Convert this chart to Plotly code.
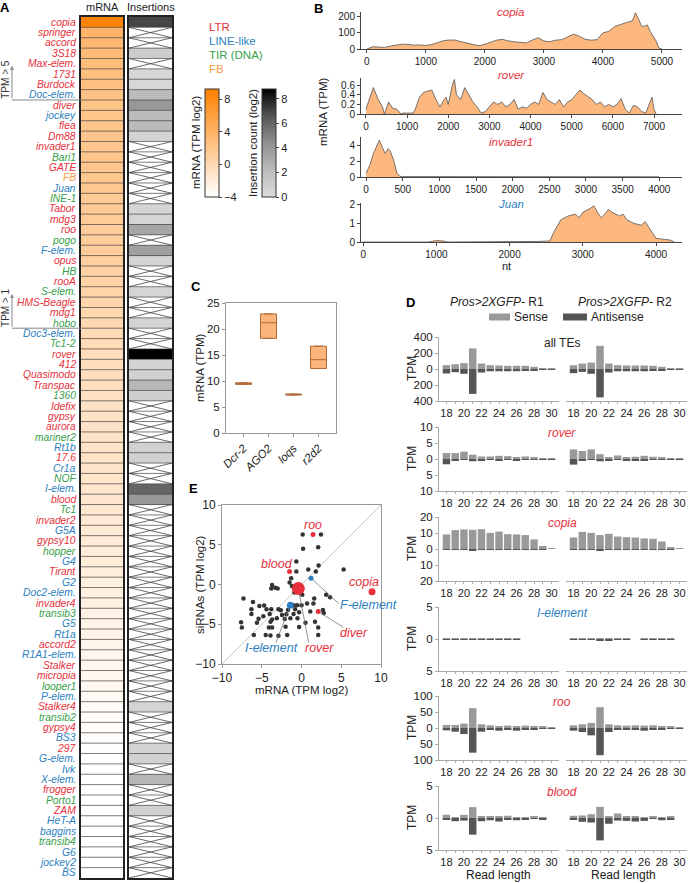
import math
import plotly.graph_objects as go

W, H = 689, 883
FONT = "Liberation Sans, Arial, sans-serif"
RED, BLUE, GREEN, ORANGE = "#e8303a", "#2d7fc1", "#36a04a", "#f59a4a"
CLASS_COLOR = {"L": RED, "N": BLUE, "T": GREEN, "F": ORANGE}

# ---------------- Panel A data ----------------
te_names = ["copia", "springer", "accord", "3S18", "Max-elem.", "1731", "Burdock", "Doc-elem.",
            "diver", "jockey", "flea", "Dm88", "invader1", "Bari1", "GATE", "FB", "Juan", "INE-1",
            "Tabor", "mdg3", "roo", "pogo", "F-elem.", "opus", "HB", "rooA", "S-elem.", "HMS-Beagle",
            "mdg1", "hobo", "Doc3-elem.", "Tc1-2", "rover", "412", "Quasimodo", "Transpac", "1360",
            "Idefix", "gypsy", "aurora", "mariner2", "Rt1b", "17.6", "Cr1a", "NOF", "I-elem.", "blood",
            "Tc1", "invader2", "G5A", "gypsy10", "hopper", "G4", "Tirant", "G2", "Doc2-elem.",
            "invader4", "transib3", "G5", "Rt1a", "accord2", "R1A1-elem.", "Stalker", "micropia",
            "looper1", "P-elem.", "Stalker4", "transib2", "gypsy4", "BS3", "297", "G-elem.", "Ivk",
            "X-elem.", "frogger", "Porto1", "ZAM", "HeT-A", "baggins", "transib4", "G6", "jockey2", "BS"]
te_class = ["L", "L", "L", "L", "L", "L", "L", "N",
            "L", "N", "L", "L", "L", "T", "L", "F", "N", "T",
            "L", "L", "L", "T", "N", "L", "T", "L", "T", "L",
            "L", "T", "N", "T", "L", "L", "L", "L", "T",
            "L", "L", "L", "T", "N", "L", "N", "T", "N", "L",
            "T", "L", "N", "L", "T", "N", "L", "N", "N",
            "L", "T", "N", "N", "L", "N", "L", "L",
            "T", "N", "L", "T", "L", "N", "L", "N", "N",
            "N", "L", "T", "L", "N", "N", "T", "N", "N", "N"]
mrna_log2 = [8.9, 3.8, 3.4, 3.1, 2.9, 2.7, 2.55, 2.4,
             2.2, 2.1, 2.05, 2.0, 1.9, 1.85, 1.8, 1.75, 1.7, 1.6,
             1.5, 1.4, 1.3, 1.25, 1.2, 1.0, 0.8, 0.6, 0.45, 0.3,
             0.2, 0.05, -0.1, -0.25, -0.4, -0.5, -0.6, -0.7, -0.8,
             -0.9, -0.95, -1.0, -1.05, -1.1, -1.15, -1.2, -1.25, -1.3, -1.5,
             -1.6, -1.7, -1.8, -1.9, -2.0, -2.1, -2.2, -2.3, -2.4,
             -2.5, -2.6, -2.7, -2.8, -2.9, -3.0, -3.1, -3.2,
             -3.3, -3.4, -3.5, -3.6, -3.7, -3.8, -3.9, -4.0, -4.1,
             -4.2, -4.3, -4.5, -4.7, -5.0, -5.3, -5.6, -6.0, -6.5, -7.5]
insert_log2 = [7.0, None, None, 1.1, None, 0.4, 0.4, 2.2,
               4.0, 2.2, 2.2, 0.6, None, None, None, None, None, None,
               0.5, 0.5, 3.3, None, 3.6, 0.5, None, None, 0.5, None,
               None, 0.6, None, None, 8.8, 0.6, 0.8, 2.4, 0.9,
               None, None, None, None, 0.8, 0.8, None, None, 6.0, 4.0,
               None, None, None, None, None, None, None, None, None,
               None, None, None, None, None, None, None, None,
               None, None, 0.6, None, None, None, 0.6, 0.8, None,
               2.4, None, None, 0.8, None, None, None, None, None, None]

# ---------------- Panel B data ----------------
copia_nt = [0, 100, 200, 300, 400, 500, 600, 700, 800, 900, 1000, 1100, 1200, 1300, 1400, 1500, 1600,
            1700, 1800, 1900, 2000, 2100, 2200, 2300, 2400, 2500, 2600, 2700, 2800, 2900, 3000, 3100,
            3200, 3300, 3400, 3500, 3600, 3700, 3800, 3900, 4000, 4100, 4200, 4300, 4400, 4500, 4550,
            4600, 4650, 4700, 4750, 4800, 4900, 4950, 5000]
copia_cov = [0, 14, 12, 10, 18, 25, 30, 28, 24, 25, 22, 28, 40, 52, 56, 55, 45,
             38, 30, 20, 30, 45, 55, 60, 50, 45, 40, 38, 55, 70, 50, 45,
             55, 58, 75, 92, 80, 60, 55, 58, 100, 110, 140, 155, 165, 175, 225,
             190, 145, 140, 150, 110, 50, 5, 0]
rover_nt = [0, 100, 180, 300, 400, 450, 550, 650, 750, 850, 900, 1000, 1100, 1150, 1200, 1300, 1400,
            1500, 1600, 1700, 1800, 1900, 1950, 2000, 2100, 2150, 2200, 2300, 2400, 2500, 2600, 2700,
            2800, 2900, 3000, 3100, 3200, 3300, 3400, 3500, 3600, 3700, 3800, 3900, 4000, 4100, 4200,
            4300, 4400, 4500, 4600, 4700, 4800, 4900, 5000, 5100, 5200, 5300, 5400, 5500, 5600, 5700,
            5800, 5900, 6000, 6100, 6200, 6300, 6400, 6500, 6600, 6700, 6800, 6900, 6950, 7000, 7050]
rover_cov = [0.1, 0.35, 0.55, 0.3, 0.15, 0.0, 0.25, 0.12, 0.1, 0.0, 0.02, 0.02, 0.02, 0.02, 0.1, 0.35, 0.45,
             0.48, 0.5, 0.3, 0.15, 0.3, 0.35, 0.2, 0.6, 0.72, 0.4, 0.3, 0.55, 0.4, 0.25, 0.15,
             0.02, 0.05, 0.15, 0.25, 0.2, 0.25, 0.15, 0.2, 0.3, 0.1, 0.15, 0.12, 0.2, 0.25, 0.2,
             0.45, 0.3, 0.25, 0.2, 0.3, 0.15, 0.25, 0.3, 0.4, 0.5, 0.42, 0.35, 0.3, 0.2, 0.25,
             0.15, 0.2, 0.15, 0.2, 0.32, 0.1, 0.02, 0.18, 0.15, 0.05, 0.02, 0.25, 0.35, 0.1, 0.0]
invader1_nt = [0, 50, 100, 150, 180, 220, 260, 300, 330, 380, 420, 460, 500, 600, 700, 800, 900, 1000,
               1200, 1500, 2000, 2500, 2700, 2900, 3100, 3300, 3500, 3700, 3900, 4000]
invader1_cov = [0.5, 1.5, 3.0, 4.0, 4.7, 3.8, 3.0, 3.6, 3.3, 2.0, 0.5, 0.1, 0.05, 0.05, 0.05, 0.1, 0.12, 0.05,
                0.03, 0.03, 0.03, 0.03, 0.05, 0.1, 0.06, 0.05, 0.05, 0.04, 0.03, 0.02]
juan_nt = [0, 500, 900, 1000, 1050, 1100, 1150, 1500, 2000, 2400, 2500, 2550, 2600, 2700, 2800, 2900,
           2950, 3000, 3100, 3150, 3200, 3250, 3300, 3350, 3400, 3500, 3550, 3600, 3700, 3800, 3850,
           3900, 3950, 4000, 4100, 4200, 4250]
juan_cov = [0, 0, 0, 0.08, 0.08, 0.05, 0, 0, 0, 0.03, 0.05, 0.05, 0.5, 1.2, 1.4, 1.5,
            1.3, 1.6, 1.8, 1.95, 1.6, 1.3, 1.5, 1.75, 1.6, 1.4, 1.5, 1.2, 1.0, 0.9, 1.1,
            0.8, 0.5, 0.2, 0.15, 0.1, 0]

# ---------------- Panel C data ----------------
genes = ["Dcr-2", "AGO2", "loqs", "r2d2"]
gene_q1 = [9.35, 18.2, 7.3, 12.4]
gene_median = [9.5, 21.2, 7.4, 14.1]
gene_q3 = [9.65, 22.9, 7.5, 16.7]

# ---------------- Panel E data ----------------
other_mrna = [0.15, 2.45, 0.2, 2.1, -0.65, 0.85, 1.8, 2.15, 5.3, -1.3, -1.5, -3.7, -3.3, -3.0, -3.8,
              -7.3, -6.3, -6.3, -5.3, -5.4, -7.6, -7.5, -6.0, -4.7, -4.4, -3.8, -4.0, -2.9, -2.6, -3.7,
              -3.9, -4.1, -3.7, -4.5, -3.9, -2.9, -1.8, -2.0, -2.1, -3.1, -1.9, -1.7, -1.0, -0.8, -0.3,
              -0.5, -0.3, 0.7, 1.1, 1.7, 2.1, 2.1, 1.6, 3.1, 3.6, 2.7, 2.8, 0.0, -1.0, -1.4, -2.45,
              -0.55, 0.5, -0.9, -0.2, 0.1, -1.2, 1.5, -5.6, -4.8, -6.1, -0.65]
other_sirna = [6.3, 6.3, 4.5, 4.7, 2.9, 1.9, 1.65, 2.4, 1.9, 0.8, 0.25, -0.05, -0.4, -0.5, -0.5,
               -1.75, -3.1, -3.7, -2.7, -4.3, -4.75, -5.4, -6.35, -2.65, -3.1, -3.1, -3.7, -3.1, -3.25, -4.4,
               -4.7, -5.4, -5.4, -6.35, -6.4, -6.45, -6.35, -5.3, -4.35, -4.25, -3.75, -3.2, -2.6, -3.1, -3.5,
               -4.25, -5.35, -2.4, -3.4, -4.7, -5.4, -6.35, -1.75, -1.3, -1.6, -3.2, -3.6, -2.6, -3.7, -4.25, -3.85,
               -2.6, -4.8, -1.0, -0.9, -1.3, -0.2, -2.4, -4.8, -4.0, -2.2, 1.65]
hl_names = ["roo", "blood", "copia", "diver", "rover", "F-element", "I-element"]
hl_class = ["L", "L", "L", "L", "L", "N", "N"]
hl_mrna = [1.45, -1.5, 8.87, 2.1, -0.4, 1.2, -1.4]
hl_sirna = [6.3, 1.65, -0.9, -3.4, -0.5, 0.8, -2.6]

# ---------------- Panel D data (read lengths 18..30) ----------------
read_len = list(range(18, 31))
allte_r1_sense = [48, 60, 73, 258, 68, 48, 44, 40, 40, 40, 28, 12, 4]
allte_r1_anti = [56, 40, 60, 311, 44, 28, 28, 28, 28, 24, 20, 8, 4]
allte_r2_sense = [48, 68, 80, 290, 68, 48, 44, 44, 44, 40, 28, 12, 4]
allte_r2_anti = [52, 36, 60, 355, 44, 28, 28, 28, 28, 24, 20, 8, 4]
rover_r1_sense = [1.85, 1.85, 2.3, 1.35, 0.8, 0.8, 1.0, 0.9, 0.6, 0.8, 0.6, 0.3, 0.1]
rover_r1_anti = [1.65, 0.5, 0.3, 0.7, 0.5, 0.3, 0.6, 0.3, 0.4, 0.3, 0.3, 0.1, 0.1]
rover_r2_sense = [3.0, 2.5, 3.0, 1.5, 0.6, 1.1, 0.6, 0.7, 1.0, 0.7, 0.4, 0.3, 0.1]
rover_r2_anti = [1.75, 0.4, 0.2, 0.7, 0.4, 0.2, 0.4, 0.4, 0.4, 0.2, 0.2, 0.1, 0.1]
copia_r1_sense = [9.1, 11.8, 12.2, 12.0, 12.4, 10.1, 10.9, 9.3, 9.1, 8.7, 6.0, 1.9, 0.6]
copia_r1_anti = [0.2, 0.1, 0.1, 0.8, 0.1, 0.1, 0.1, 0.1, 0.1, 0.1, 0.1, 0.05, 0.0]
copia_r2_sense = [7.2, 10.7, 10.1, 8.7, 9.5, 7.8, 7.4, 7.2, 6.6, 6.4, 4.7, 1.2, 0.2]
copia_r2_anti = [0.3, 0.1, 0.1, 0.8, 0.1, 0.1, 0.1, 0.1, 0.1, 0.1, 0.1, 0.05, 0.0]
ielem_r1_sense = [0.1, 0.05, 0.05, 0.05, 0.05, 0.05, 0.05, 0.15, 0.1, 0, 0, 0, 0]
ielem_r1_anti = [0.05, 0.02, 0.05, 0.08, 0.05, 0.05, 0.05, 0.02, 0.03, 0, 0, 0, 0]
ielem_r2_sense = [0.05, 0.05, 0.1, 0.05, 0.1, 0.05, 0.08, 0, 0.05, 0.05, 0.05, 0.05, 0]
ielem_r2_anti = [0.1, 0.1, 0.15, 0.25, 0.2, 0.05, 0.05, 0, 0.05, 0.03, 0.02, 0.02, 0]
roo_r1_sense = [9.5, 9.5, 13.7, 62, 11.6, 8.4, 5.3, 7.4, 5.3, 7.4, 4.2, 3.2, 1]
roo_r1_anti = [7.4, 11.6, 19, 77, 11.6, 5.3, 8.4, 6.3, 8.4, 5.3, 5.3, 2.1, 1]
roo_r2_sense = [8.4, 11.6, 15.8, 65, 11.6, 8.4, 7.4, 8.4, 7.4, 8.4, 5.3, 3.2, 1]
roo_r2_anti = [8.4, 12.6, 23, 85, 12.6, 5.3, 6.3, 6.3, 8.4, 5.3, 4.2, 2.1, 1]
blood_r1_sense = [0.5, 0.1, 0.5, 1.7, 0.25, 0.2, 0.2, 0.35, 0.15, 0.1, 0.2, 0.05, 0]
blood_r1_anti = [0.3, 0.5, 0.4, 2.6, 0.5, 0.35, 0.55, 0.25, 0.35, 0.2, 0.15, 0.2, 0]
blood_r2_sense = [0.35, 0.4, 0.6, 1.75, 0.3, 0.7, 0.25, 0.3, 0.15, 0.25, 0.1, 0.2, 0]
blood_r2_anti = [0.25, 0.6, 0.7, 3.5, 0.9, 0.4, 0.45, 0.55, 0.45, 0.15, 0.35, 0.2, 0]

# ================= helpers =================
def ax(n, a):
    return a + ("" if n == 1 else str(n))


def axkey(n, a):
    return a + "axis" + ("" if n == 1 else str(n))


def xdom(p0, p1):
    return [p0 / W, p1 / W]


def ydom(top, bottom):
    return [1 - bottom / H, 1 - top / H]


annotations = []
shapes = []


def ann(text, px, py, size=11, color="#222", xanchor="center", yanchor="middle", angle=0):
    annotations.append(dict(text=text, x=px / W, y=1 - py / H, xref="paper", yref="paper",
                            showarrow=False, font=dict(family=FONT, size=size, color=color),
                            xanchor=xanchor, yanchor=yanchor, textangle=angle))


fig = go.Figure()
layout = dict()

# ================= Panel A =================
n = len(te_names)
rows = list(range(n))
fig.add_trace(go.Heatmap(
    z=[[v] for v in mrna_log2], x=[0], y=rows, xaxis="x", yaxis="y",
    zmin=-4, zmax=9.25, colorscale=[[0, "#ffffff"], [1, "#ff8000"]], showscale=True,
    colorbar=dict(x=205 / W, xanchor="left", y=1 - 197 / H, yanchor="bottom", len=108 / H,
                  lenmode="fraction", thickness=14, xpad=0, ypad=0, outlinewidth=1,
                  outlinecolor="#333", tickvals=[-4, 0, 4, 8], ticks="outside", ticklen=3,
                  tickfont=dict(family=FONT, size=11, color="#222"))))
fig.add_trace(go.Heatmap(
    z=[[v] for v in insert_log2], x=[0], y=rows, xaxis="x2", yaxis="y2",
    zmin=0, zmax=8.8,
    colorscale=[[0, "#dddddd"], [0.25, "#bbbbbb"], [0.5, "#909090"], [0.75, "#555555"], [1, "#000000"]],
    showscale=True,
    colorbar=dict(x=262 / W, xanchor="left", y=1 - 197 / H, yanchor="bottom", len=108 / H,
                  lenmode="fraction", thickness=14, xpad=0, ypad=0, outlinewidth=1,
                  outlinecolor="#333", tickvals=[0, 2, 4, 6, 8], ticks="outside", ticklen=3,
                  tickfont=dict(family=FONT, size=11, color="#222"))))

sep_x, sep_y = [], []
for i in range(n - 1):
    sep_x += [-0.5, 0.5, None]
    sep_y += [i + 0.5, i + 0.5, None]
for xa, ya in (("x", "y"), ("x2", "y2")):
    fig.add_trace(go.Scatter(x=sep_x, y=sep_y, mode="lines", xaxis=xa, yaxis=ya,
                             line=dict(color="#444", width=0.7), hoverinfo="skip", showlegend=False))
cx, cy = [], []
for i, v in enumerate(insert_log2):
    if v is None:
        cx += [-0.5, 0.5, None, -0.5, 0.5, None]
        cy += [i - 0.5, i + 0.5, None, i + 0.5, i - 0.5, None]
fig.add_trace(go.Scatter(x=cx, y=cy, mode="lines", xaxis="x2", yaxis="y2",
                         line=dict(color="#444", width=0.8), hoverinfo="skip", showlegend=False))

for k, (p0, p1) in ((1, (81, 123)), (2, (129, 172))):
    layout[axkey(k, "x")] = dict(domain=xdom(p0, p1), range=[-0.5, 0.5], anchor=ax(k, "y"),
                                 showticklabels=False, ticks="", showgrid=False, zeroline=False,
                                 showline=True, mirror=True, linecolor="#222", linewidth=1.5,
                                 automargin=False)
    layout[axkey(k, "y")] = dict(domain=ydom(17, 878), range=[n - 0.5, -0.5], anchor=ax(k, "x"),
                                 showticklabels=False, ticks="", showgrid=False, zeroline=False,
                                 showline=True, mirror=True, linecolor="#222", linewidth=1.5,
                                 automargin=False)

for i, (nm, c) in enumerate(zip(te_names, te_class)):
    annotations.append(dict(text="<i>" + nm + "</i>", x=78 / W, y=i, xref="paper", yref="y",
                            showarrow=False, xanchor="right", yanchor="middle",
                            font=dict(family=FONT, size=10.3, color=CLASS_COLOR[c])))

# TPM thresholds brackets
for thr, label in ((5, "TPM > 5"), (1, "TPM > 1")):
    idx = next(i for i, v in enumerate(mrna_log2) if v < math.log2(thr))
    yb = idx - 0.5
    shapes.append(dict(type="line", xref="paper", yref="y", x0=12 / W, x1=81 / W, y0=yb, y1=yb,
                       line=dict(color="#888", width=1)))
    annotations.append(dict(text="", x=12 / W, y=yb - 3.3, xref="paper", yref="y", showarrow=True,
                            ax=0, ay=34, arrowhead=2, arrowsize=0.8, arrowwidth=1, arrowcolor="#888"))
    annotations.append(dict(text=label, x=5.5 / W, y=yb - 2.0, xref="paper", yref="y",
                            showarrow=False, textangle=-90, xanchor="center", yanchor="middle",
                            font=dict(family=FONT, size=10, color="#333")))

ann("mRNA", 102, 7, size=11)
ann("Insertions", 151, 7, size=11)
ann("LTR", 207, 27, size=11.5, color=RED, xanchor="left")
ann("LINE-like", 207, 41, size=11.5, color=BLUE, xanchor="left")
ann("TIR (DNA)", 207, 55, size=11.5, color=GREEN, xanchor="left")
ann("FB", 207, 69, size=11.5, color=ORANGE, xanchor="left")
ann("mRNA (TPM log2)", 196, 143, size=11.5, angle=-90)
ann("Insertion count (log2)", 253, 143, size=11.5, angle=-90)

# ================= Panel B =================
b_specs = [
    (3, copia_nt, copia_cov, (12, 49), [-100, 5340], 1000, [0, 230], [0, 100, 200], "copia", RED, 12),
    (4, rover_nt, rover_cov, (78, 114), [-120, 7680], 1000, [0, 0.75], [0, 0.2, 0.4, 0.6], "rover", RED, 75),
    (5, invader1_nt, invader1_cov, (137, 177), [-70, 4310], 500, [0, 5.1], [0, 2, 4], "invader1", RED, 142),
    (6, juan_nt, juan_cov, (203, 242), [-30, 4355], 1000, [0, 2.1], [0, 1, 2], "Juan", BLUE, 204),
]
for k, xs, ys, (top, bot), xr, dt, yr, ytv, title, col, ty in b_specs:
    fig.add_trace(go.Scatter(x=xs, y=ys, mode="lines", fill="tozeroy", fillcolor="#fbb77e",
                             line=dict(color="#555", width=0.8), xaxis=ax(k, "x"), yaxis=ax(k, "y"),
                             hoverinfo="skip", showlegend=False))
    layout[axkey(k, "x")] = dict(domain=xdom(361, 682), range=xr, anchor=ax(k, "y"), dtick=dt, tick0=0,
                                 ticks="outside", ticklen=3, tickcolor="#444", showline=True,
                                 linecolor="#444", linewidth=1, showgrid=False, zeroline=False,
                                 automargin=False, tickfont=dict(family=FONT, size=10, color="#222"))
    layout[axkey(k, "y")] = dict(domain=ydom(top, bot), range=yr, anchor=ax(k, "x"), tickvals=ytv,
                                 ticks="outside", ticklen=3, tickcolor="#444", showline=True,
                                 linecolor="#444", linewidth=1, showgrid=False, zeroline=False,
                                 automargin=False, tickfont=dict(family=FONT, size=10, color="#222"))
    ann("<i>" + title + "</i>", 511, ty, size=11.5, color=col)
ann("nt", 507, 266, size=11)
ann("mRNA (TPM)", 323, 112, size=11.5, angle=-90)

# ================= Panel C =================
fig.add_trace(go.Box(x=genes, q1=gene_q1, median=gene_median, q3=gene_q3, lowerfence=gene_q1,
                     upperfence=gene_q3, width=0.64, fillcolor="#fbb57a",
                     line=dict(color="#b06a38", width=1), xaxis="x7", yaxis="y7",
                     hoverinfo="skip", showlegend=False))
layout["xaxis7"] = dict(domain=xdom(226, 336), range=[-0.7, 3.7], anchor="y7", type="category",
                        tickvals=genes, ticktext=["<i>" + g + "</i>" for g in genes], tickangle=-45,
                        ticks="outside", ticklen=3, tickcolor="#999", showline=True, mirror=True,
                        linecolor="#999", linewidth=1, showgrid=False, zeroline=False, automargin=False,
                        tickfont=dict(family=FONT, size=11.5, color="#222"))
layout["yaxis7"] = dict(domain=ydom(303, 433), range=[0, 25], anchor="x7", dtick=5,
                        ticks="outside", ticklen=3, tickcolor="#999", showline=True, mirror=True,
                        linecolor="#999", linewidth=1, showgrid=False, zeroline=False, automargin=False,
                        tickfont=dict(family=FONT, size=11.5, color="#222"))
ann("mRNA (TPM)", 200, 368, size=11.5, angle=-90)

# ================= Panel E =================
shapes.append(dict(type="line", xref="x8", yref="y8", x0=-10, y0=-10, x1=10, y1=10,
                   line=dict(color="#c8c8c8", width=1), layer="below"))
fig.add_trace(go.Scatter(x=other_mrna, y=other_sirna, mode="markers", xaxis="x8", yaxis="y8",
                         marker=dict(color="#333", size=4.5), hoverinfo="skip", showlegend=False))
hl_sizes = [5, 5, 7, 5, 13, 5, 7]
label_pos = {"roo": (1.45, 7.5), "blood": (-3.1, 2.6), "copia": (7.9, 0.3),
             "F-element": (8.45, -2.6), "diver": (6.55, -6.05), "rover": (2.3, -8.0),
             "I-element": (-3.8, -8.0)}
leader_end = {"F-element": (4.7, -2.4), "diver": (5.3, -5.4), "rover": (0.9, -7.3),
              "I-element": (-3.2, -7.3)}
for nm, c, xv, yv, sz in zip(hl_names, hl_class, hl_mrna, hl_sirna, hl_sizes):
    if nm in leader_end:
        ex, ey = leader_end[nm]
        fig.add_trace(go.Scatter(x=[xv, ex], y=[yv, ey], mode="lines", xaxis="x8", yaxis="y8",
                                 line=dict(color="#777", width=0.8), hoverinfo="skip",
                                 showlegend=False))
for nm, c, xv, yv, sz in zip(hl_names, hl_class, hl_mrna, hl_sirna, hl_sizes):
    fig.add_trace(go.Scatter(x=[xv], y=[yv], mode="markers", xaxis="x8", yaxis="y8",
                             marker=dict(color=CLASS_COLOR[c], size=sz), hoverinfo="skip",
                             showlegend=False))
    lx, ly = label_pos[nm]
    annotations.append(dict(text="<i>" + nm + "</i>", x=lx, y=ly, xref="x8", yref="y8",
                            showarrow=False, font=dict(family=FONT, size=12.5, color=CLASS_COLOR[c])))
for a in ("x", "y"):
    layout[axkey(8, a)] = dict(domain=xdom(222, 381) if a == "x" else ydom(505, 664), range=[-10, 10],
                               anchor="y8" if a == "x" else "x8", dtick=5, ticks="outside", ticklen=3,
                               tickcolor="#999", showline=True, mirror=True, linecolor="#999",
                               linewidth=1, showgrid=False, zeroline=False, automargin=False,
                               tickfont=dict(family=FONT, size=12, color="#222"))
ann("mRNA (TPM log2)", 301, 690, size=11.5)
ann("siRNAs (TPM log2)", 200, 585, size=11.5, angle=-90)

# ================= Panel D =================
d_rows = [
    ("all TEs", "#222", False, allte_r1_sense, allte_r1_anti, allte_r2_sense, allte_r2_anti, 400, [400, 200, 0, 200, 400], 337),
    ("rover", RED, True, rover_r1_sense, rover_r1_anti, rover_r2_sense, rover_r2_anti, 10, [10, 5, 0, 5, 10], 427),
    ("copia", RED, True, copia_r1_sense, copia_r1_anti, copia_r2_sense, copia_r2_anti, 20, [20, 10, 0, 10, 20], 517),
    ("I-element", BLUE, True, ielem_r1_sense, ielem_r1_anti, ielem_r2_sense, ielem_r2_anti, 5, [5, 0, 5], 607),
    ("roo", RED, True, roo_r1_sense, roo_r1_anti, roo_r2_sense, roo_r2_anti, 100, [100, 50, 0, 50, 100], 696),
    ("blood", RED, True, blood_r1_sense, blood_r1_anti, blood_r2_sense, blood_r2_anti, 5, [5, 0, 5], 786),
]
col_px = [(439, 559), (566, 687)]
k = 9
for title, tcol, ital, s1, a1, s2, a2, ymax, ylab, top in d_rows:
    bot = top + 64
    for c, (sv, av) in enumerate(((s1, a1), (s2, a2))):
        fig.add_trace(go.Bar(x=read_len, y=sv, width=0.85, marker=dict(color="#999999", line=dict(width=0)),
                             xaxis=ax(k, "x"), yaxis=ax(k, "y"), hoverinfo="skip", showlegend=False))
        fig.add_trace(go.Bar(x=read_len, y=[-v for v in av], width=0.85,
                             marker=dict(color="#555555", line=dict(width=0)),
                             xaxis=ax(k, "x"), yaxis=ax(k, "y"), hoverinfo="skip", showlegend=False))
        p0, p1 = col_px[c]
        layout[axkey(k, "x")] = dict(domain=xdom(p0, p1), range=[17.15, 30.85], anchor=ax(k, "y"),
                                     tickvals=read_len,
                                     ticktext=[str(v) if v % 2 == 0 else "" for v in read_len],
                                     ticks="outside", ticklen=2, tickcolor="#aaa", showline=True,
                                     linecolor="#aaa", linewidth=1, showgrid=False, zeroline=False,
                                     automargin=False, tickfont=dict(family=FONT, size=11, color="#222"))
        step = ymax if len(ylab) == 3 else ymax / 2
        tv = [ymax - i * step for i in range(len(ylab))]
        layout[axkey(k, "y")] = dict(domain=ydom(top, bot), range=[-ymax, ymax], anchor=ax(k, "x"),
                                     tickvals=tv, ticktext=[str(v) for v in ylab],
                                     showticklabels=(c == 0), ticks="outside" if c == 0 else "",
                                     ticklen=3, tickcolor="#aaa", showline=(c == 0), linecolor="#aaa",
                                     linewidth=1, showgrid=False, zeroline=False, automargin=False,
                                     tickfont=dict(family=FONT, size=11.5, color="#222"))
        k += 1
    ann(("<i>" + title + "</i>") if ital else title, 562, top + 6, size=12, color=tcol)
    ann("TPM", 412, top + 32, size=12, angle=-90)

ann("<i>Pros>2XGFP-</i> R1", 497, 302, size=12)
ann("<i>Pros>2XGFP-</i> R2", 625, 302, size=12)
shapes.append(dict(type="rect", xref="paper", yref="paper", x0=489 / W, x1=510 / W,
                   y0=1 - 320.5 / H, y1=1 - 313.5 / H, fillcolor="#999999", line=dict(width=0)))
shapes.append(dict(type="rect", xref="paper", yref="paper", x0=563 / W, x1=587 / W,
                   y0=1 - 320.5 / H, y1=1 - 313.5 / H, fillcolor="#555555", line=dict(width=0)))
ann("Sense", 512, 317, size=12, xanchor="left")
ann("Antisense", 589, 317, size=12, xanchor="left")
ann("Read length", 498, 875, size=12)
ann("Read length", 623, 875, size=12)

# panel letters
for letter, px, py in (("A", 5, 7), ("B", 318, 8), ("C", 196, 287), ("D", 410, 302), ("E", 193, 488)):
    ann("<b>" + letter + "</b>", px, py, size=13, color="#000")

layout.update(dict(width=W, height=H, margin=dict(l=0, r=0, t=0, b=0, autoexpand=False),
                   paper_bgcolor="white", plot_bgcolor="rgba(0,0,0,0)", showlegend=False,
                   barmode="relative", font=dict(family=FONT, color="#222"),
                   annotations=annotations, shapes=shapes))
fig.update_layout(**layout)
fig.write_html("out.html", config={"displayModeBar": False},
               post_script="document.body.style.margin='0';document.body.style.overflow='hidden';")
